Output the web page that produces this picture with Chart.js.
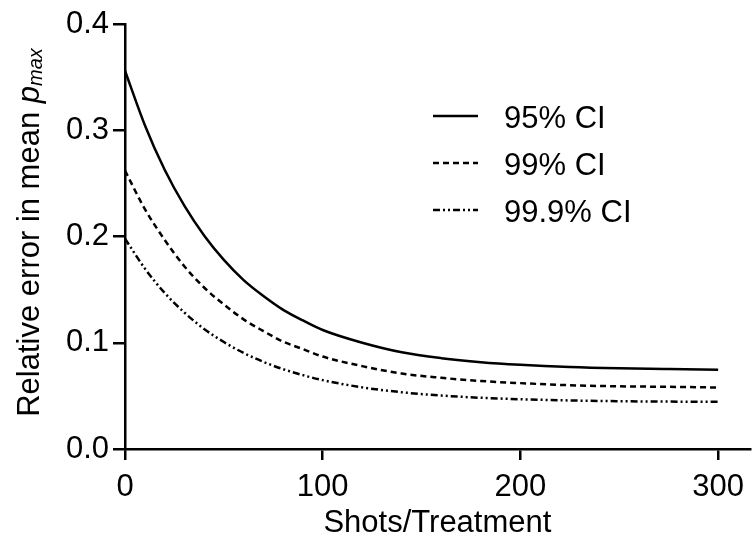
<!DOCTYPE html>
<html>
<head>
<meta charset="utf-8">
<script src="https://cdn.jsdelivr.net/npm/chart.js@4"></script>
<style>
  html, body { margin: 0; padding: 0; background: #fff; }
  #wrap { width: 753px; height: 545px; }
</style>
</head>
<body>
<div id="wrap"><canvas id="chart" width="753" height="545"></canvas></div>
<script>
const FONT = '"Liberation Sans", Arial, sans-serif';
const FS = 31;

// values
const shots = [0, 10, 20, 30, 40, 50, 60, 70, 80, 90, 100, 120, 140, 160, 180, 200, 225, 250, 275, 300];
const ci95 = [0.356, 0.305, 0.263, 0.229, 0.201, 0.178, 0.159, 0.144, 0.131, 0.121, 0.112,
  0.100, 0.091, 0.0855, 0.0817, 0.0792, 0.0771, 0.0759, 0.0752, 0.0747];
const ci99 = [0.262, 0.226, 0.197, 0.172, 0.152, 0.136, 0.122, 0.111, 0.101, 0.094, 0.087,
  0.078, 0.071, 0.067, 0.064, 0.062, 0.060, 0.059, 0.0585, 0.0579];
const ci999 = [0.198, 0.170, 0.147, 0.1285, 0.113, 0.1007, 0.0904, 0.082, 0.0751, 0.0695, 0.0648,
  0.058, 0.0534, 0.0503, 0.0482, 0.0468, 0.0457, 0.045, 0.0446, 0.0444];

const seriesLabels = ['95% CI', '99% CI', '99.9% CI'];
const xTicks = [0, 100, 200, 300];
const yTicks = [0, 0.1, 0.2, 0.3, 0.4];

const DASHES = [[], [6, 4], [7, 3, 2, 3, 2, 3]];

function points(ys) {
  return shots.map((x, i) => ({ x: x, y: ys[i] }));
}

// legend drawn inside the plot, top right
const legendPlugin = {
  id: 'inlineLegend',
  afterDraw(chart) {
    const ctx = chart.ctx;
    ctx.save();
    chart.data.datasets.forEach((ds, i) => {
      const y = 116 + i * 47;
      ctx.strokeStyle = '#000';
      ctx.lineWidth = 2.5;
      ctx.setLineDash(ds.borderDash || []);
      ctx.beginPath();
      ctx.moveTo(433, y);
      ctx.lineTo(478, y);
      ctx.stroke();
      ctx.setLineDash([]);
      ctx.fillStyle = '#000';
      ctx.font = FS + 'px ' + FONT;
      ctx.textBaseline = 'middle';
      ctx.textAlign = 'left';
      ctx.fillText(ds.label, 504, y + 3);
    });
    ctx.restore();
  },
};

// y title with italic p and subscript "max"
const yTitlePlugin = {
  id: 'yTitle',
  afterDraw(chart) {
    const ctx = chart.ctx;
    const parts = [
      { t: 'Relative error in mean ', f: FS + 'px ' + FONT, dy: 0 },
      { t: 'p', f: 'italic ' + FS + 'px ' + FONT, dy: 0 },
      { t: 'max', f: 'italic 20px ' + FONT, dy: 6 },
    ];
    ctx.save();
    let total = 0;
    parts.forEach((p) => { ctx.font = p.f; p.w = ctx.measureText(p.t).width; total += p.w; });
    const area = chart.chartArea;
    ctx.translate(30, (area.top + area.bottom) / 2 - 4);
    ctx.rotate(-Math.PI / 2);
    ctx.fillStyle = '#000';
    ctx.textBaseline = 'middle';
    ctx.textAlign = 'left';
    let x = -total / 2;
    parts.forEach((p) => {
      ctx.font = p.f;
      ctx.fillText(p.t, x, p.dy);
      x += p.w;
    });
    ctx.restore();
  },
};

const datasets = [ci95, ci99, ci999].map((ys, i) => ({
  label: seriesLabels[i],
  data: points(ys),
  borderColor: '#000',
  borderWidth: 2.5,
  borderDash: DASHES[i],
  pointRadius: 0,
  fill: false,
  cubicInterpolationMode: 'monotone',
}));

new Chart(document.getElementById('chart'), {
  type: 'line',
  data: { datasets: datasets },
  options: {
    responsive: false,
    animation: false,
    layout: { padding: { top: 24, right: 0, left: 0, bottom: 0 } },
    plugins: { legend: { display: false }, tooltip: { enabled: false } },
    scales: {
      x: {
        type: 'linear',
        min: 0,
        max: 316,
        afterFit: (s) => { s.height = 96; },
        afterBuildTicks: (s) => { s.ticks = xTicks.map((v) => ({ value: v })); },
        border: { color: '#000', width: 2.5 },
        grid: { drawOnChartArea: false, color: '#000', lineWidth: 2.5, tickLength: 11 },
        ticks: { color: '#000', font: { size: FS, family: FONT }, padding: 9, maxRotation: 0 },
        title: {
          display: true,
          text: 'Shots/Treatment',
          color: '#000',
          font: { size: FS, family: FONT },
          padding: { top: 0, bottom: 3 },
        },
      },
      y: {
        min: 0,
        max: 0.4,
        afterFit: (s) => { s.width = 125; },
        afterBuildTicks: (s) => { s.ticks = yTicks.map((v) => ({ value: v })); },
        border: { color: '#000', width: 2.5 },
        grid: { drawOnChartArea: false, color: '#000', lineWidth: 2.5, tickLength: 12 },
        ticks: {
          color: '#000',
          font: { size: FS, family: FONT },
          padding: 4,
          callback: (v) => v.toFixed(1),
        },
      },
    },
  },
  plugins: [legendPlugin, yTitlePlugin],
});
</script>
</body>
</html>
